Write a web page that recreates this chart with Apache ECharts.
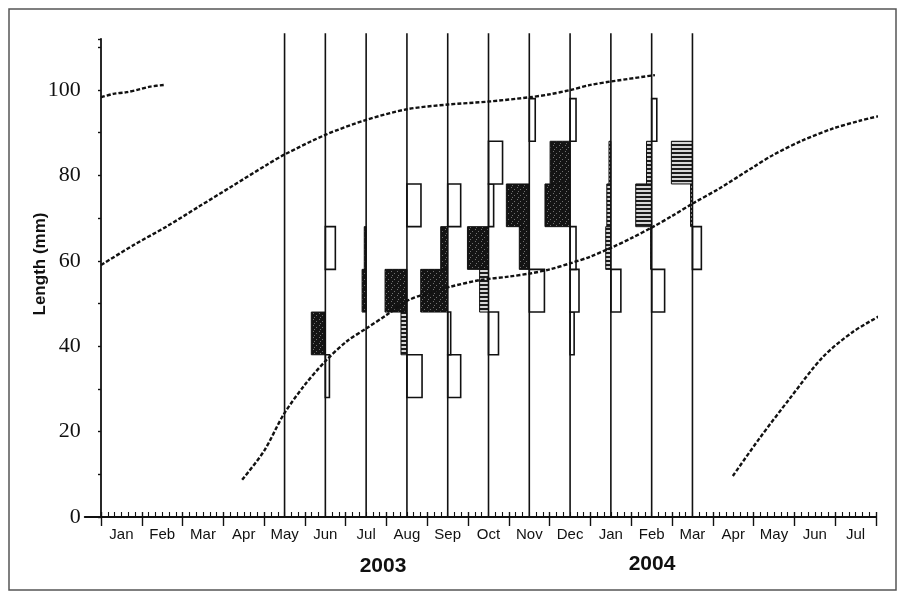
<!DOCTYPE html>
<html>
<head>
<meta charset="utf-8">
<script src="https://cdn.jsdelivr.net/npm/echarts@6/dist/echarts.min.js"></script>
<style>
  html, body { margin: 0; padding: 0; background: #fff; }
  #chart { width: 902px; height: 596px; }
</style>
</head>
<body>
<div id="chart"></div>
<script>
// Month labels along the time axis (Jan 2003 .. Jul 2004)
const monthLabels = ['Jan','Feb','Mar','Apr','May','Jun','Jul','Aug','Sep','Oct','Nov','Dec',
                     'Jan','Feb','Mar','Apr','May','Jun','Jul'];
const yearLabels = ['2003', '2004'];

// Length classes (mm): lower bounds, 10 mm wide
const classLower = [28, 38, 48, 58, 68, 78, 88];
const classWidth = 10;

// Sampling times in months from 1 Jan 2003 (mid-month samples, May 2003 .. Mar 2004)
const sampleTimes = [4.5, 5.5, 6.5, 7.5, 8.5, 9.5, 10.5, 11.5, 12.5, 13.5, 14.5];

// Restructured frequencies per sample, one value per length class
// (positive peaks = black bars, negative troughs = white bars)
const scoresMay03 = [0, 0, 0, 0, 0, 0, 0];
const scoresJun03 = [-0.15, 0.52, 0, -0.37, 0, 0, 0];
const scoresJul03 = [0, 0, 0.15, 0.07, 0, 0, 0];
const scoresAug03 = [-0.56, 0.22, 0.81, 0, -0.52, 0, 0];
const scoresSep03 = [-0.48, -0.11, 1.00, 0.26, -0.48, 0, 0];
const scoresOct03 = [0, -0.37, 0.33, 0.78, -0.19, -0.52, 0];
const scoresNov03 = [0, 0, -0.56, 0.37, 0.85, 0, -0.22];
const scoresDec03 = [0, -0.15, -0.33, -0.22, 0.93, 0.74, -0.22];
const scoresJan04 = [0, 0, -0.37, 0.19, 0.15, 0.07, 0];
const scoresFeb04 = [0, 0, -0.48, 0.04, 0.59, 0.19, -0.19];
const scoresMar04 = [0, 0, 0, -0.33, 0.07, 0.78, 0];
const sampleScores = [scoresMay03, scoresJun03, scoresJul03, scoresAug03, scoresSep03, scoresOct03,
                      scoresNov03, scoresDec03, scoresJan04, scoresFeb04, scoresMar04];

// Positive bars drawn with line hatching instead of the dark stipple (by class lower bound)
const hatchedClasses = [[], [], [], [38], [], [48], [], [], [58, 68, 78], [58, 68, 78], [68, 78]];

// Growth curves: [months from 1 Jan 2003, length mm]
const curveOldCohort = [[0, 98.3], [0.3, 99.1], [0.63, 99.5], [0.96, 100.2], [1.2, 100.8], [1.55, 101.2]];
const curveCohort2002 = [[0, 59], [0.8, 63.7], [1.6, 68], [2.4, 72.7], [3.2, 77.4], [4.05, 82.4], [4.5, 84.9],
  [5.5, 89.5], [6.5, 93], [7.5, 95.5], [8.5, 96.6], [9.5, 97.3], [10.5, 98.3], [11.0, 99.0], [11.5, 100.0],
  [12.0, 101.2], [12.5, 102], [13.58, 103.5]];
const curveCohort2003 = [[3.46, 8.7], [4.0, 15.5], [4.47, 23.9], [4.96, 30.5], [5.49, 36.4], [6.02, 41.1],
  [6.51, 44.2], [7.0, 47.3], [7.5, 50.6], [8.0, 52.4], [8.55, 53.9], [9.3, 55.5], [10.0, 56.3], [10.55, 57.1],
  [11.0, 58.0], [11.5, 59.4], [12.0, 61.0], [12.56, 63.3], [13.0, 65.3], [13.54, 68], [14.0, 70.5],
  [14.52, 73.5], [15.17, 77], [16.0, 82], [16.48, 84.8], [17.2, 88.2], [17.95, 91], [18.6, 92.8], [19.17, 94.1]];
const curveCohort2004 = [[15.49, 9.6], [16.15, 18.5], [16.89, 27.8], [17.7, 37.5], [18.44, 43.4], [19.13, 47.3]];

// Horizontal extent of a bar: one score unit in months
const SCORE_TO_MONTH = 0.662;
const SAMPLE_LINE_TOP = 113.3;

function makePattern(w, h, draw) {
  const c = document.createElement('canvas');
  c.width = w; c.height = h;
  draw(c.getContext('2d'));
  return { image: c, repeat: 'repeat' };
}
const stipple = makePattern(6, 6, g => {
  g.fillStyle = '#141414'; g.fillRect(0, 0, 6, 6);
  g.fillStyle = '#707070'; g.fillRect(1, 1, 1, 1); g.fillRect(4, 3, 1, 1); g.fillRect(2, 5, 1, 1);
});
const hatch = makePattern(4, 4, g => {
  g.fillStyle = '#d8d8d8'; g.fillRect(0, 0, 4, 4);
  g.fillStyle = '#1c1c1c'; g.fillRect(0, 0, 4, 2);
});

const barData = [];
sampleScores.forEach((scores, i) => {
  scores.forEach((v, j) => {
    if (v === 0) return;
    const hatched = hatchedClasses[i].indexOf(classLower[j]) >= 0 ? 1 : 0;
    barData.push([sampleTimes[i], classLower[j], classLower[j] + classWidth, v, hatched]);
  });
});

function renderBar(params, api) {
  const t = api.value(0), lo = api.value(1), hi = api.value(2), v = api.value(3), hatched = api.value(4);
  const a = api.coord([t, hi]);
  const b = api.coord([t - v * SCORE_TO_MONTH, lo]);
  const x = Math.min(a[0], b[0]);
  const w = Math.abs(b[0] - a[0]);
  const style = v > 0
    ? { fill: hatched ? hatch : stipple, stroke: '#111', lineWidth: 1 }
    : { fill: '#fff', stroke: '#111', lineWidth: 1.6 };
  return { type: 'rect', shape: { x: x, y: a[1], width: w, height: b[1] - a[1] }, style: style };
}

function renderSampleLine(params, api) {
  const t = api.value(0);
  const p0 = api.coord([t, 0]);
  const p1 = api.coord([t, SAMPLE_LINE_TOP]);
  return { type: 'line', shape: { x1: p0[0], y1: p0[1], x2: p1[0], y2: p1[1] },
           style: { stroke: '#111', lineWidth: 1.6 } };
}

const curveStyle = { color: '#111', width: 2.4, type: [4, 2] };
function curveSeries(data) {
  return { type: 'line', xAxisIndex: 0, yAxisIndex: 0, data: data, showSymbol: false, smooth: 0.3,
           clip: false, lineStyle: curveStyle, z: 5, silent: true };
}

const chart = echarts.init(document.getElementById('chart'), null, { renderer: 'canvas' });
const axisColor = '#111';
chart.setOption({
  animation: false,
  backgroundColor: '#fff',
  grid: [
    { left: 84.7, right: 26, top: 38.8, bottom: 79 },
    { left: 101, right: 26, top: 38.8, bottom: 79 }
  ],
  xAxis: [
    { gridIndex: 0, type: 'value', min: -0.4, max: 19, position: 'bottom',
      axisLine: { lineStyle: { color: axisColor, width: 1.8 } },
      axisTick: { show: false }, axisLabel: { show: false }, splitLine: { show: false } },
    { gridIndex: 1, type: 'category', data: monthLabels, boundaryGap: true, position: 'bottom',
      axisLine: { show: false },
      axisTick: { show: true, interval: 0, length: 9, lineStyle: { color: axisColor, width: 1.4 } },
      axisLabel: { interval: 0, margin: 10, color: '#111', fontFamily: 'Liberation Sans', fontSize: 15 } },
    { gridIndex: 1, type: 'value', min: 0, max: 19, interval: 1, position: 'bottom',
      axisLine: { show: false },
      axisTick: { show: true, inside: true, length: 5, lineStyle: { color: axisColor, width: 1.4 } },
      minorTick: { show: true, splitNumber: 6, length: 5, lineStyle: { color: axisColor, width: 1.1 } },
      axisLabel: { show: false }, splitLine: { show: false } }
  ],
  yAxis: [
    { gridIndex: 0, type: 'value', min: 0, max: 112, interval: 10,
      axisLine: { show: true, lineStyle: { color: axisColor, width: 1.8 } },
      axisTick: { show: true, length: 3, lineStyle: { color: axisColor, width: 1.4 } },
      axisLabel: { formatter: v => (v % 20 === 0 ? String(v) : ''), margin: 4, color: '#111',
                   fontFamily: 'Liberation Serif', fontSize: 22 },
      splitLine: { show: false } },
    { gridIndex: 1, type: 'value', min: 0, max: 112, show: false }
  ],
  series: [
    { type: 'custom', xAxisIndex: 0, yAxisIndex: 0, renderItem: renderBar, data: barData,
      encode: { x: 0, y: [1, 2] }, clip: false, z: 2, silent: true },
    { type: 'custom', xAxisIndex: 0, yAxisIndex: 0, renderItem: renderSampleLine,
      data: sampleTimes.map(t => [t, 0]), encode: { x: 0, y: 1 }, clip: false, z: 3, silent: true },
    curveSeries(curveOldCohort),
    curveSeries(curveCohort2002),
    curveSeries(curveCohort2003),
    curveSeries(curveCohort2004)
  ],
  graphic: [
    { type: 'rect', shape: { x: 9, y: 9, width: 887, height: 581 },
      style: { fill: 'none', stroke: '#555', lineWidth: 1.5 }, silent: true },
    { type: 'text', x: 40, y: 264, rotation: Math.PI / 2,
      style: { text: 'Length (mm)', fill: '#111', font: 'bold 17px "Liberation Sans"',
               textAlign: 'center', textVerticalAlign: 'middle' } },
    { type: 'text', x: 383, y: 566,
      style: { text: yearLabels[0], fill: '#111', font: 'bold 21px "Liberation Sans"',
               textAlign: 'center', textVerticalAlign: 'middle' } },
    { type: 'text', x: 652, y: 564,
      style: { text: yearLabels[1], fill: '#111', font: 'bold 21px "Liberation Sans"',
               textAlign: 'center', textVerticalAlign: 'middle' } }
  ]
});
</script>
</body>
</html>
